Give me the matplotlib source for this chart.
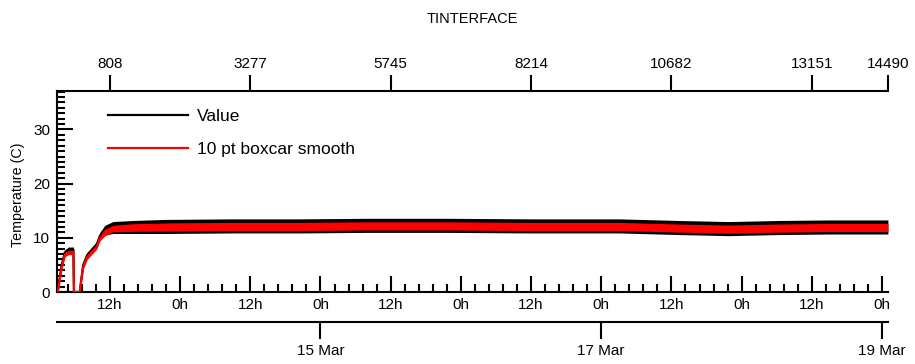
import matplotlib
matplotlib.use("Agg")
import matplotlib.pyplot as plt
from matplotlib.ticker import MultipleLocator, FuncFormatter

plt.rcParams["font.family"] = ["Liberation Sans", "DejaVu Sans"]

# time as day of March (13.5 = 13 Mar 12h)
time_day = [13.129, 13.156, 13.179, 13.205, 13.240, 13.244, 13.285, 13.309,
            13.338, 13.369, 13.405, 13.428, 13.464, 13.521, 13.663, 13.905,
            14.374, 14.851, 15.327, 15.917, 16.486, 17.127, 17.553, 17.909,
            18.265, 18.620, 19.042]
# raw value: centre of the noisy band and its half width
value_mid = [0.3, 4.9, 7.3, 7.8, 7.8, 0.0, 0.0, 4.9,
             6.8, 7.7, 8.7, 10.3, 11.4, 11.9, 12.0, 12.1,
             12.2, 12.2, 12.3, 12.3, 12.2, 12.2, 11.9, 11.7,
             11.9, 12.0, 12.0]
value_noise = [0.2, 0.5, 0.5, 0.5, 0.5, 0.0, 0.0, 0.5,
               0.5, 0.5, 0.6, 0.7, 0.9, 1.1, 1.2, 1.3,
               1.3, 1.3, 1.3, 1.3, 1.3, 1.3, 1.3, 1.3,
               1.3, 1.3, 1.3]
# 10 pt boxcar smooth
smooth_mid = [0.0, 4.5, 6.9, 7.3, 7.3, 0.0, 0.0, 4.6,
              6.4, 7.3, 8.3, 9.9, 11.0, 11.7, 11.9, 12.0,
              12.1, 12.1, 12.2, 12.2, 12.1, 12.1, 11.8, 11.6,
              11.8, 11.9, 11.9]
smooth_noise = [0.1, 0.4, 0.4, 0.4, 0.4, 0.0, 0.0, 0.4,
                0.4, 0.4, 0.4, 0.5, 0.6, 0.6, 0.7, 0.75,
                0.75, 0.75, 0.75, 0.75, 0.75, 0.75, 0.75, 0.75,
                0.75, 0.75, 0.75]

index_ticks = [808, 3277, 5745, 8214, 10682, 13151, 14490]
date_ticks = [15, 17, 19]
date_labels = ["15 Mar", "17 Mar", "19 Mar"]

# sample index <-> time (one sample every ~35 s)
IDX_REF = 808
IDX_REF_DAY = 13.5
SAMPLES_PER_DAY = 2468.67


def day_to_idx(d):
    return IDX_REF + (d - IDX_REF_DAY) * SAMPLES_PER_DAY


def idx_to_day(i):
    return IDX_REF_DAY + (i - IDX_REF) / SAMPLES_PER_DAY


fig = plt.figure(figsize=(9.15, 3.64), dpi=100)
ax = fig.add_axes([0.0626, 0.1978, 0.9079, 0.5522])

v_lo = [m - n for m, n in zip(value_mid, value_noise)]
v_hi = [m + n for m, n in zip(value_mid, value_noise)]
s_lo = [m - n for m, n in zip(smooth_mid, smooth_noise)]
s_hi = [m + n for m, n in zip(smooth_mid, smooth_noise)]

ax.fill_between(time_day, v_lo, v_hi, color="black", lw=0, zorder=2)
ax.plot(time_day, value_mid, color="black", lw=1.6, label="Value", zorder=3)
ax.fill_between(time_day, s_lo, s_hi, color="#ff0000", lw=0, zorder=4)
ax.plot(time_day, smooth_mid, color="#ff0000", lw=1.6,
        label="10 pt boxcar smooth", zorder=5)

ax.set_xlim(13.125, idx_to_day(14490) + 0.0005)
ax.set_ylim(0, 37.1)

for side in ["right", "top"]:
    ax.spines[side].set_visible(False)
for side in ["left", "bottom"]:
    ax.spines[side].set_linewidth(1.5)

# time of day axis
ax.xaxis.set_major_locator(MultipleLocator(0.5))
ax.xaxis.set_minor_locator(MultipleLocator(0.1))
ax.xaxis.set_major_formatter(FuncFormatter(
    lambda v, p: "0h" if abs(v - round(v)) < 1e-6 else "12h"))
ax.yaxis.set_major_locator(MultipleLocator(10))
ax.yaxis.set_minor_locator(MultipleLocator(1))
ax.tick_params(which="major", direction="in", length=11.5, width=1.5,
               labelsize=11)
ax.tick_params(which="minor", direction="in", length=6, width=1.5)
ax.tick_params(axis="x", which="major", pad=4)
ax.tick_params(axis="y", which="major", pad=5)

# date axis below
date_ax = ax.secondary_xaxis(-0.149)
date_ax.set_xticks(date_ticks, labels=date_labels)
date_ax.tick_params(direction="out", length=12, width=1.5, labelsize=11, pad=4)
date_ax.spines["bottom"].set_linewidth(1.5)

# sample index axis on top
idx_ax = ax.secondary_xaxis("top", functions=(day_to_idx, idx_to_day))
idx_ax.set_xticks(index_ticks)
idx_ax.tick_params(direction="out", length=11.5, width=1.5, labelsize=11, pad=3)
idx_ax.spines["top"].set_linewidth(1.5)

fig.text(18 / 915, 1 - 195 / 364, "Temperature (C)", rotation=90,
         ha="center", va="center", fontsize=10.3)
fig.text(472.5 / 915, 1 - 19 / 364, "TINTERFACE", ha="center", va="center",
         fontsize=10.5)

ax.legend(loc="upper left", bbox_to_anchor=(108 / 915, 1 - 109 / 364),
          bbox_transform=fig.transFigure, frameon=False, fontsize=12.5,
          handlelength=4.6, handletextpad=0.5, labelspacing=1.0,
          borderpad=0, borderaxespad=0)

fig.savefig("out.png", dpi=100)
plt.close(fig)
